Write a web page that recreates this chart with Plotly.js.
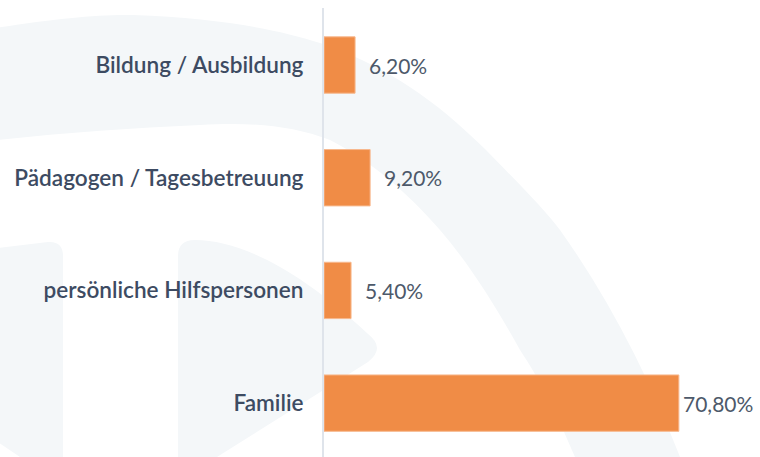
<!DOCTYPE html>
<html>
<head>
<meta charset="utf-8">
<script src="https://cdn.plot.ly/plotly-3.0.1.min.js"></script>
<style>
  html, body { margin: 0; padding: 0; background: #ffffff; }
  #chart { width: 760px; height: 457px; }
</style>
</head>
<body>
<div id="chart"></div>
<script>
// ---- data ----
const categories = ["Bildung / Ausbildung", "Pädagogen / Tagesbetreuung", "persönliche Hilfspersonen", "Familie"];
const values = [6.2, 9.2, 5.4, 70.8];
const valueLabels = ["6,20%", "9,20%", "5,40%", "70,80%"];

// ---- layout constants ----
const W = 760, H = 457;
const M = { l: 324, r: 20, t: 8, b: 0 };
const PW = W - M.l - M.r, PH = H - M.t - M.b;

// convert pixel path coordinates into paper coordinates (for faint background decoration)
function toPaper(pts) {
  return pts.map(p => {
    if (typeof p === 'string') return p;
    const x = (p[0] - M.l) / PW;
    const y = (H - p[1]) / PH;
    return x.toFixed(4) + ',' + y.toFixed(4);
  }).join(' ');
}
const deco = '#f4f7f9';
const bandPath = toPaper([
  'M', [-10, 29], 'C', [50, 19], [100, 14], [133, 15],
  'C', [220, 18], [280, 30], [320, 43],
  'C', [400, 70], [450, 115], [486, 150],
  'C', [520, 185], [545, 210], [560, 230],
  'C', [610, 300], [650, 380], [680, 457],
  'L', [680, 470], 'L', [580, 470], 'L', [575, 457],
  'C', [555, 410], [540, 380], [520, 350],
  'C', [495, 305], [470, 265], [440, 230],
  'C', [410, 195], [370, 160], [330, 140],
  'C', [290, 125], [250, 122], [200, 125],
  'C', [130, 128], [60, 133], [-10, 141], 'Z'
]);
const shapeAPath = toPaper([
  'M', [-20, 250], 'L', [48, 242], 'Q', [63, 241], [63, 256],
  'L', [63, 470], 'L', [25, 470], 'L', [20, 457], 'L', [-20, 430], 'Z'
]);
const shapeBPath = toPaper([
  'M', [178, 256], 'Q', [178, 240], [195, 240],
  'C', [240, 240], [300, 270], [368, 334],
  'Q', [386, 348], [368, 362],
  'L', [217, 457], 'L', [210, 470], 'L', [178, 470], 'Z'
]);

const trace = {
  type: 'bar',
  orientation: 'h',
  y: categories,
  x: values,
  width: 0.5,
  marker: { color: '#f08c46', line: { color: '#f7b88d', width: 1 } },
  hoverinfo: 'skip'
};

const annotations = categories.map((c, i) => ({
  x: values[i],
  y: c,
  xref: 'x', yref: 'y',
  text: valueLabels[i],
  showarrow: false,
  xanchor: 'left',
  yanchor: 'middle',
  xshift: values[i] > 60 ? 2 : 12,
  font: { family: 'Lato, "Open Sans", sans-serif', size: 21, color: '#4d596a' }
}));

const layout = {
  width: W, height: H,
  margin: M,
  paper_bgcolor: '#ffffff',
  plot_bgcolor: 'rgba(0,0,0,0)',
  showlegend: false,
  xaxis: {
    range: [0, PW / 5.012],
    showgrid: false, zeroline: false, showline: false,
    showticklabels: false, ticks: ''
  },
  yaxis: {
    type: 'category',
    range: [3.478, -0.506],
    showgrid: false, zeroline: false,
    showline: true, linecolor: '#dfe4eb', linewidth: 2,
    ticks: 'outside', ticklen: 14, tickcolor: 'rgba(0,0,0,0)',
    tickfont: { family: 'Lato, "Open Sans", sans-serif', size: 22.6, color: '#3d4b62', weight: 600 }
  },
  annotations: annotations,
  shapes: [
    { type: 'path', xref: 'paper', yref: 'paper', path: bandPath, fillcolor: deco, line: { width: 0 }, layer: 'below' },
    { type: 'path', xref: 'paper', yref: 'paper', path: shapeAPath, fillcolor: deco, line: { width: 0 }, layer: 'below' },
    { type: 'path', xref: 'paper', yref: 'paper', path: shapeBPath, fillcolor: deco, line: { width: 0 }, layer: 'below' }
  ]
};

Plotly.newPlot('chart', [trace], layout, { displayModeBar: false, staticPlot: true });
</script>
</body>
</html>
